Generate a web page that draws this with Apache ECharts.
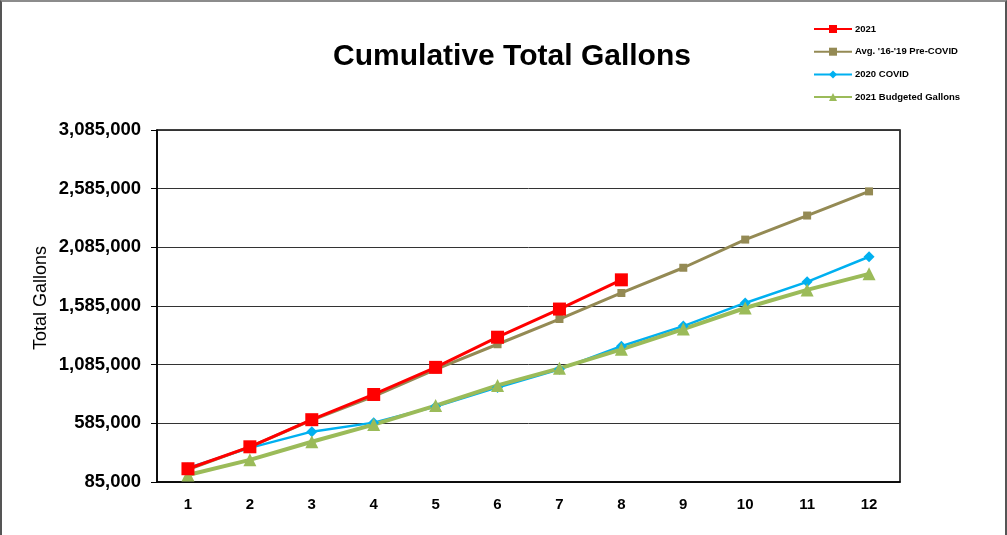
<!DOCTYPE html>
<html>
<head>
<meta charset="utf-8">
<script src="https://cdn.jsdelivr.net/npm/echarts@6/dist/echarts.min.js"></script>
<style>
    html, body { margin: 0; padding: 0; background: #fff; }
    .chart-frame {
        position: absolute; left: 0; top: 0;
        width: 1003px; height: 533px;
        border-top: 2px solid #8c8c8c;
        border-left: 2px solid #555;
        border-right: 2px solid #555;
    }
    #chart { width: 1003px; height: 533px; }
</style>
</head>
<body>
<div class="chart-frame"><div id="chart"></div></div>
<script>
// months
const months = ['1', '2', '3', '4', '5', '6', '7', '8', '9', '10', '11', '12'];

// cumulative gallons
const actual2021 = [198000, 385000, 616000, 831000, 1062000, 1319000, 1559000, 1808000];
const avgPreCovid = [190000, 385000, 612000, 815000, 1045000, 1259000, 1474000, 1696000, 1911000, 2151000, 2356000, 2562000];
const covid2020 = [205000, 376000, 514000, 591000, 728000, 891000, 1045000, 1242000, 1414000, 1611000, 1791000, 2005000];
const budget2021 = [145000, 274000, 428000, 574000, 736000, 908000, 1054000, 1216000, 1388000, 1568000, 1722000, 1859000];

const yMin = 85000, yMax = 3085000, yStep = 500000;

const chart = echarts.init(document.getElementById('chart'), null, { renderer: 'canvas' });

chart.setOption({
    backgroundColor: '#fff',
    animation: false,
    title: {
        text: 'Cumulative Total Gallons',
        left: 505,
        top: 35,
        textAlign: 'center',
        textStyle: { fontFamily: 'Liberation Sans, Arial', fontSize: 30, fontWeight: 'bold', color: '#000' }
    },
    legend: {
        orient: 'vertical',
        left: 806,
        top: 17,
        itemWidth: 38,
        itemHeight: 10,
        itemGap: 12.7,
        textStyle: { fontFamily: 'Liberation Sans, Arial', fontSize: 9.5, fontWeight: 'bold', color: '#000', padding: [0, 0, 0, -2] },
        data: ['2021', "Avg. '16-'19 Pre-COVID", '2020 COVID', '2021 Budgeted Gallons']
    },
    graphic: [{
        type: 'text',
        x: 39, y: 296,
        rotation: Math.PI / 2,
        style: {
            text: 'Total Gallons',
            font: '18px "Liberation Sans", Arial',
            fill: '#000',
            align: 'center',
            verticalAlign: 'middle'
        }
    }],
    grid: { left: 155, right: 105, top: 128, bottom: 53, show: true, borderColor: '#000', borderWidth: 1.5 },
    xAxis: {
        type: 'category',
        data: months,
        boundaryGap: true,
        axisLine: { lineStyle: { color: '#000', width: 1.5 } },
        axisTick: { show: false },
        axisLabel: { fontFamily: 'Liberation Sans, Arial', fontSize: 15, fontWeight: 'bold', color: '#000', margin: 15 }
    },
    yAxis: {
        type: 'value',
        min: yMin,
        max: yMax,
        interval: yStep,
        axisLine: { show: true, lineStyle: { color: '#000', width: 1.5 } },
        axisTick: { show: true, length: 6, lineStyle: { color: '#000' } },
        splitLine: { lineStyle: { color: '#333', width: 1 } },
        axisLabel: {
            fontFamily: 'Liberation Sans, Arial', fontSize: 18.5, fontWeight: 'bold', color: '#000', margin: 16,
            formatter: v => v.toLocaleString('en-US')
        }
    },
    series: [
        {
            name: '2021', type: 'line', data: actual2021, z: 5,
            symbol: 'rect', symbolSize: 13,
            lineStyle: { color: '#ff0000', width: 3 },
            itemStyle: { color: '#ff0000' }
        },
        {
            name: "Avg. '16-'19 Pre-COVID", type: 'line', data: avgPreCovid, z: 4,
            symbol: 'rect', symbolSize: 8,
            lineStyle: { color: '#948a54', width: 3 },
            itemStyle: { color: '#948a54' }
        },
        {
            name: '2020 COVID', type: 'line', data: covid2020, z: 3,
            symbol: 'diamond', symbolSize: 11,
            lineStyle: { color: '#00b0f0', width: 2.5 },
            itemStyle: { color: '#00b0f0' }
        },
        {
            name: '2021 Budgeted Gallons', type: 'line', data: budget2021, z: 3,
            symbol: 'triangle', symbolSize: 13,
            lineStyle: { color: '#9bbb59', width: 4 },
            itemStyle: { color: '#9bbb59' }
        }
    ]
});
</script>
</body>
</html>
